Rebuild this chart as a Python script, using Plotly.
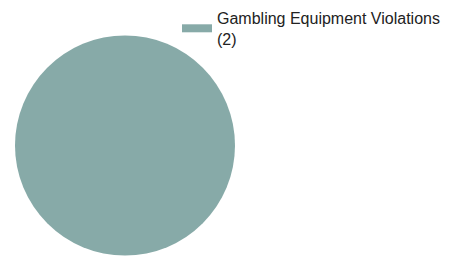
import plotly.graph_objects as go

categories = ["Gambling Equipment Violations"]
values = [2]
colors = ["#87AAA8"]

labels = [f"{c}<br>({v})" for c, v in zip(categories, values)]

W, H = 448, 249  # page body adds an 8px margin

fig = go.Figure()
fig.add_trace(go.Pie(
    labels=labels, values=values, marker=dict(colors=colors, line=dict(width=0)),
    textinfo="none", sort=False, showlegend=False,
    domain=dict(x=[7/W, 227/W], y=[1/H, 222/H]),
))
for lab, col in zip(labels, colors):
    fig.add_trace(go.Scatter(x=[None], y=[None], mode="lines", name=lab,
                             line=dict(color=col, width=8), showlegend=True))

fig.update_layout(
    width=W, height=H,
    margin=dict(l=0, r=0, t=0, b=0, autoexpand=False),
    paper_bgcolor="white", plot_bgcolor="white",
    font=dict(family="Liberation Sans, Arial, sans-serif", size=16, color="#222222"),
    xaxis=dict(visible=False), yaxis=dict(visible=False),
    legend=dict(x=169/W, y=1 + 7/H, xanchor="left", yanchor="top",
                bgcolor="rgba(0,0,0,0)", valign="middle"),
)
fig.write_html("out.html")
